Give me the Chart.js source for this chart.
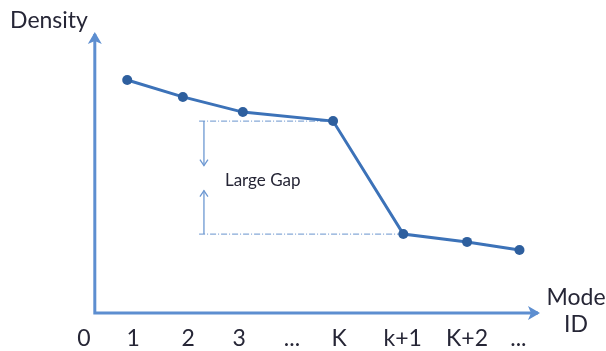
<!DOCTYPE html>
<html lang="en">
<head>
    <meta charset="UTF-8">
    <title>Density vs Mode ID</title>
    <style>
        body {
            margin: 0;
            background: #ffffff;
        }
        #wrap {
            position: relative;
            width: 606px;
            height: 351px;
        }
    </style>
    <script src="https://cdn.jsdelivr.net/npm/chart.js"></script>
</head>
<body>
    <div id="wrap">
        <canvas id="modeChart" width="606" height="351"></canvas>
    </div>

    <script>
    // tick labels along the mode axis and where they sit
    const tickLabels = ['0', '1', '2', '3', '...', 'K', 'k+1', 'K+2', '...'];
    const tickPositions = [0, 0.91, 1.93, 2.87, 3.85, 4.72, 5.9, 7.09, 8.04];

    // the plotted modes
    const modePositions = [0.80, 1.83, 2.94, 4.61, 5.91, 7.09, 8.06];
    const densities = [8.29, 7.69, 7.15, 6.83, 2.81, 2.53, 2.24];

    // where the axes cross and end
    const axisOrigin = { x: 0.2, y: 0 };
    const axisEnd = { x: 8.44, y: 10 };

    // the "large gap" bracket between mode K and k+1
    const gapStart = 2.13;
    const gapArrowAt = 2.22;
    const gapTop = densities[3];
    const gapBottom = densities[4];

    const fontFamily = 'Lato, "Open Sans", sans-serif';
    const textColor = '#262636';
    const axisColor = '#5d8ed0';
    const lineColor = '#3c72b8';

    function arrowHead(ctx, x, y, dir, len, half) {
        ctx.beginPath();
        if (dir === 'up') {
            ctx.moveTo(x - half, y + len);
            ctx.lineTo(x, y);
            ctx.lineTo(x + half, y + len);
        } else {
            ctx.moveTo(x - half, y - len);
            ctx.lineTo(x, y);
            ctx.lineTo(x + half, y - len);
        }
        ctx.stroke();
    }

    // axes with arrows, drawn behind the line
    const axesPlugin = {
        id: 'arrowAxes',
        beforeDatasetsDraw(chart) {
            const ctx = chart.ctx;
            const xs = chart.scales.x, ys = chart.scales.y;
            const ox = xs.getPixelForValue(axisOrigin.x);
            const oy = ys.getPixelForValue(axisOrigin.y);
            const ex = xs.getPixelForValue(axisEnd.x);
            const ey = ys.getPixelForValue(axisEnd.y);

            ctx.save();
            ctx.strokeStyle = axisColor;
            ctx.lineWidth = 3;
            ctx.beginPath();
            ctx.moveTo(ox, ey + 2);
            ctx.lineTo(ox, oy);
            ctx.lineTo(ex - 2, oy);
            ctx.stroke();
            ctx.fillStyle = axisColor;
            ctx.beginPath();
            ctx.moveTo(ox, ey);
            ctx.lineTo(ox - 7, ey + 12);
            ctx.lineTo(ox, ey + 9);
            ctx.lineTo(ox + 7, ey + 12);
            ctx.closePath();
            ctx.fill();
            ctx.beginPath();
            ctx.moveTo(ex, oy);
            ctx.lineTo(ex - 12, oy - 7);
            ctx.lineTo(ex - 9, oy);
            ctx.lineTo(ex - 12, oy + 7);
            ctx.closePath();
            ctx.fill();

            // gap guide lines
            const gx = xs.getPixelForValue(gapStart);
            const ax = xs.getPixelForValue(gapArrowAt);
            const ty = ys.getPixelForValue(gapTop);
            const by = ys.getPixelForValue(gapBottom);
            ctx.strokeStyle = '#86a9d8';
            ctx.lineWidth = 1.2;
            ctx.setLineDash([6, 2, 1, 2]);
            ctx.beginPath();
            ctx.moveTo(gx, ty);
            ctx.lineTo(xs.getPixelForValue(modePositions[3]), ty);
            ctx.moveTo(gx, by);
            ctx.lineTo(xs.getPixelForValue(modePositions[4]), by);
            ctx.stroke();
            ctx.setLineDash([]);

            // gap arrows
            ctx.strokeStyle = '#6d98d2';
            ctx.lineWidth = 1.3;
            const mid = (ty + by) / 2;
            ctx.beginPath();
            ctx.moveTo(ax, ty);
            ctx.lineTo(ax, mid - 12);
            ctx.moveTo(ax, by);
            ctx.lineTo(ax, mid + 13);
            ctx.stroke();
            arrowHead(ctx, ax, mid - 12, 'down', 6, 4);
            arrowHead(ctx, ax, mid + 13, 'up', 6, 4);

            ctx.fillStyle = textColor;
            ctx.font = '17px ' + fontFamily;
            ctx.textAlign = 'left';
            ctx.textBaseline = 'middle';
            ctx.fillText('Large Gap', ax + 21, mid + 3);

            // axis titles
            ctx.font = '23px ' + fontFamily;
            ctx.textAlign = 'center';
            ctx.fillText('Density', 49, 21);
            ctx.fillText('Mode', 576, 298);
            ctx.fillText('ID', 576, 325);
            ctx.restore();
        }
    };

    const points = modePositions.map((x, i) => ({ x: x, y: densities[i] }));

    new Chart(document.getElementById('modeChart'), {
        type: 'line',
        data: {
            datasets: [{
                data: points,
                borderColor: lineColor,
                borderWidth: 3,
                pointRadius: 5,
                pointBackgroundColor: '#2e5f9e',
                pointBorderColor: '#2e5f9e',
                pointBorderWidth: 0,
                tension: 0,
                clip: false
            }]
        },
        options: {
            responsive: false,
            animation: false,
            layout: {
                padding: { left: 84, right: 66, top: 32, bottom: 0 }
            },
            plugins: {
                legend: { display: false },
                tooltip: { enabled: false }
            },
            scales: {
                x: {
                    type: 'linear',
                    min: 0,
                    max: axisEnd.x,
                    grid: { display: false, drawTicks: false },
                    border: { display: false },
                    afterBuildTicks(axis) {
                        axis.ticks = tickPositions.map(v => ({ value: v }));
                    },
                    afterFit(axis) {
                        axis.height = 38;
                    },
                    ticks: {
                        autoSkip: false,
                        maxRotation: 0,
                        padding: 12,
                        color: textColor,
                        font: { family: fontFamily, size: 23 },
                        callback(value) {
                            const i = tickPositions.indexOf(value);
                            return i >= 0 ? tickLabels[i] : '';
                        }
                    }
                },
                y: {
                    display: false,
                    min: 0,
                    max: axisEnd.y
                }
            }
        },
        plugins: [axesPlugin]
    });
    </script>
</body>
</html>
